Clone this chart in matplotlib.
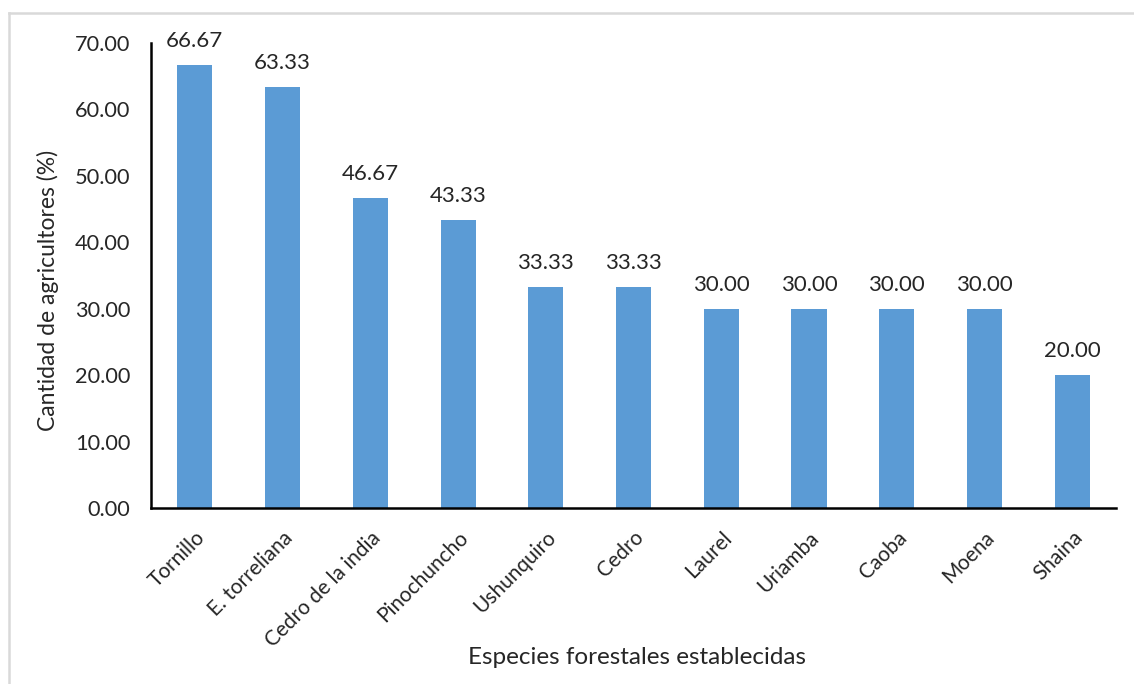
import matplotlib
matplotlib.use("Agg")
import matplotlib.pyplot as plt
from matplotlib.lines import Line2D

categories = ["Tornillo", "E. torreliana", "Cedro de la india", "Pinochuncho",
              "Ushunquiro", "Cedro", "Laurel", "Uriamba", "Caoba", "Moena", "Shaina"]
values = [66.67, 63.33, 46.67, 43.33, 33.33, 33.33, 30.00, 30.00, 30.00, 30.00, 20.00]
yticks = [0, 10, 20, 30, 40, 50, 60, 70]

plt.rcParams['font.family'] = ['Lato', 'DejaVu Sans']
txt = '#262626'

fig = plt.figure(figsize=(11.34, 6.84), dpi=100)
ax = fig.add_axes([151/1134, 1-508/684, (1116-151)/1134, (508-43)/684])

x = list(range(len(categories)))
ax.bar(x, values, width=0.4, color='#5B9BD5', zorder=2)
for xi, v in zip(x, values):
    ax.annotate(f"{v:.2f}", (xi, v), xytext=(0, 10), textcoords='offset points',
                ha='center', va='bottom', fontsize=16, color=txt)

ax.set_xlim(-0.5, len(categories) - 0.5)
ax.set_ylim(0, 70)
ax.set_yticks(yticks)
ax.set_yticklabels([f"{t:.2f}" for t in yticks], fontsize=15.7, color=txt)
ax.set_xticks(x)
ax.set_xticklabels(categories, rotation=45, ha='right', rotation_mode='anchor',
                   fontsize=15, color=txt)
ax.tick_params(axis='both', length=0)
ax.tick_params(axis='y', pad=15)
ax.tick_params(axis='x', pad=14)
for s in ['top', 'right']:
    ax.spines[s].set_visible(False)
for s in ['left', 'bottom']:
    ax.spines[s].set_color('black')
    ax.spines[s].set_linewidth(1.8)

fig.text(48/1134, 1-290/684, "Cantidad de agricultores (%)", rotation=90,
         ha='center', va='center', fontsize=16.5, color=txt)
fig.text(637/1134, 1-657/684, "Especies forestales establecidas", ha='center', va='center',
         fontsize=17.5, color=txt)

# outer chart border (top and left visible)
fig.add_artist(Line2D([9/1134, 1], [1-13/684, 1-13/684], transform=fig.transFigure,
                      color='#d9d9d9', lw=1.8))
fig.add_artist(Line2D([9/1134, 9/1134], [0, 1-13/684], transform=fig.transFigure,
                      color='#d9d9d9', lw=1.8))

fig.savefig("out.png", dpi=100, facecolor='white')
